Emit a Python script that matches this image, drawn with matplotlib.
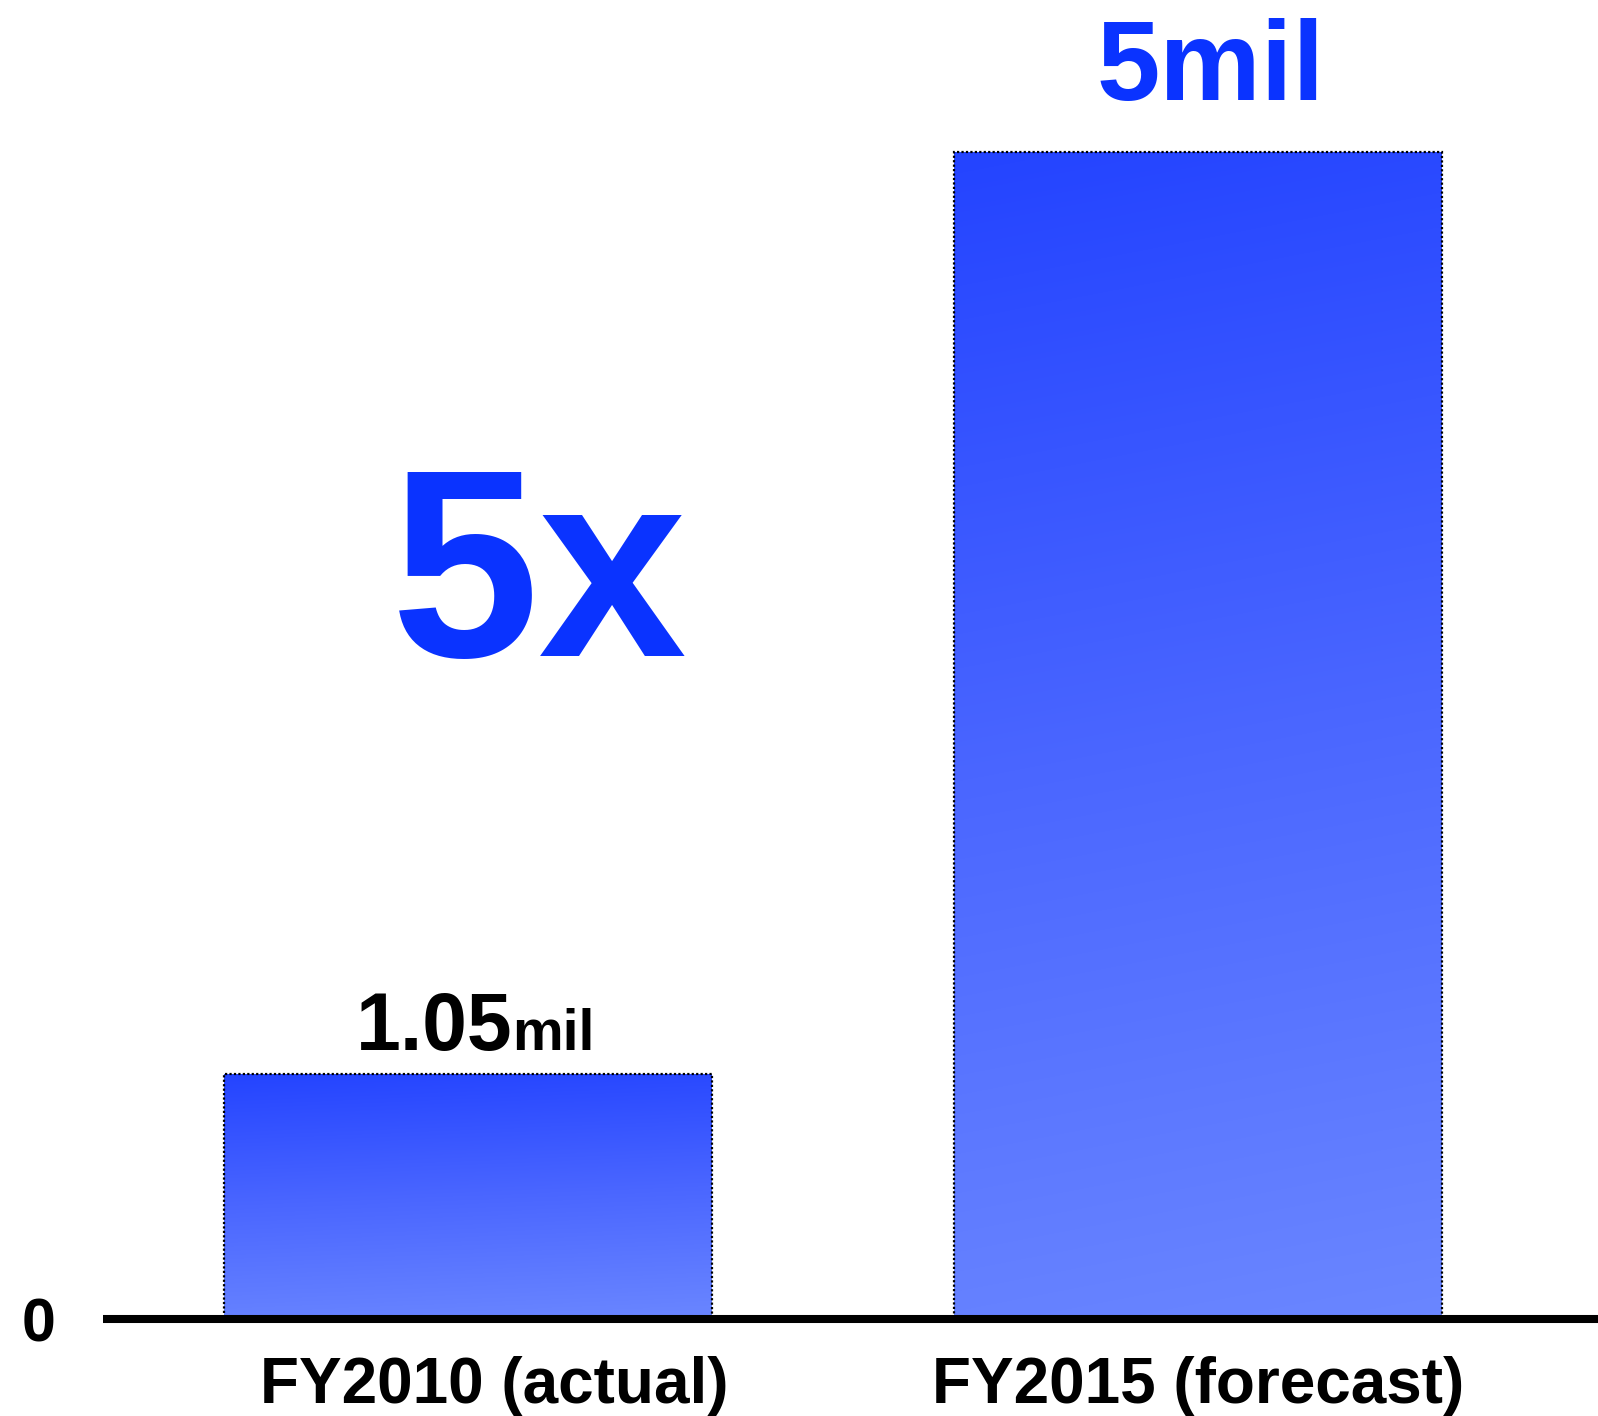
import numpy as np
import matplotlib
matplotlib.use("Agg")
import matplotlib.pyplot as plt
import matplotlib.transforms as mtransforms
from matplotlib.colors import LinearSegmentedColormap

# Data
categories = ["FY2010 (actual)", "FY2015 (forecast)"]
values = [1.05, 5.0]
value_labels = [("1.05", "mil"), ("5mil", None)]
multiple_label = "5x"

plt.rcParams["font.family"] = ["Liberation Sans", "DejaVu Sans"]
plt.rcParams["font.weight"] = "bold"

W, H, DPI = 1598, 1416, 100
fig = plt.figure(figsize=(W / DPI, H / DPI), dpi=DPI)
ax_left, ax_bottom = 103 / W, (H - 1319) / H
ax = fig.add_axes([ax_left, ax_bottom, 1 - ax_left, 1319 / H])

ax.set_xlim(-0.5, 1.548)
ax.set_ylim(0, 5.65)

cmap = LinearSegmentedColormap.from_list("barblue", ["#2444FF", "#4A66FF", "#6A86FF"])

bar_width = 0.668
positions = np.arange(len(categories))
bars = ax.bar(positions, values, width=bar_width, color="none",
              edgecolor="black", linewidth=1.6, linestyle=(0, (1, 1)), zorder=3)

# Vertical gradient fill clipped to each bar (slightly tilted)
ny, nx = 200, 60
yy, xx = np.mgrid[0:1:ny * 1j, 0:1:nx * 1j]
grad = yy + 0.08 * (xx - 0.5)
for rect in bars:
    x0, y0 = rect.get_x(), rect.get_y()
    w, h = rect.get_width(), rect.get_height()
    im = ax.imshow(grad, cmap=cmap, aspect="auto", origin="upper",
                   extent=[x0, x0 + w, y0, y0 + h], zorder=2,
                   interpolation="bilinear")
    im.set_clip_path(rect)

ax.set_xlim(-0.5, 1.548)
ax.set_ylim(0, 5.65)

# Value labels
ax.annotate(value_labels[0][0], xy=(positions[0], values[0]), xytext=(32, 17),
            textcoords="offset points", ha="right", va="baseline",
            fontsize=58, fontweight="bold", color="black")
ax.annotate(value_labels[0][1], xy=(positions[0], values[0]), xytext=(32, 17),
            textcoords="offset points", ha="left", va="baseline",
            fontsize=41, fontweight="bold", color="black")
ax.annotate(value_labels[1][0], xy=(positions[1], values[1]), xytext=(9, 37),
            textcoords="offset points", ha="center", va="baseline",
            fontsize=82, fontweight="bold", color="#0A33FF")

# Growth multiple
ax.text(0.292, 0.555, multiple_label, transform=ax.transAxes, ha="center",
        va="center", fontsize=192, fontweight="bold", color="#0A33FF")

# Axes styling
for s in ["top", "right", "left"]:
    ax.spines[s].set_visible(False)
ax.spines["bottom"].set_linewidth(5.8)
ax.spines["bottom"].set_capstyle("butt")
ax.spines["bottom"].set_zorder(4)
ax.set_xticks(positions)
ax.set_xticklabels(categories, fontsize=46, fontweight="bold")
ax.tick_params(axis="x", length=0, pad=27)
ax.set_yticks([0])
ax.set_yticklabels(["0"], fontsize=44, fontweight="bold")
ax.tick_params(axis="y", length=0, pad=34)

# Nudge the first category label to the right
lbl = ax.get_xticklabels()[0]
lbl.set_transform(lbl.get_transform() +
                  mtransforms.ScaledTranslation(26 / DPI, 0, fig.dpi_scale_trans))

fig.savefig("out.png", dpi=DPI, facecolor="white")
